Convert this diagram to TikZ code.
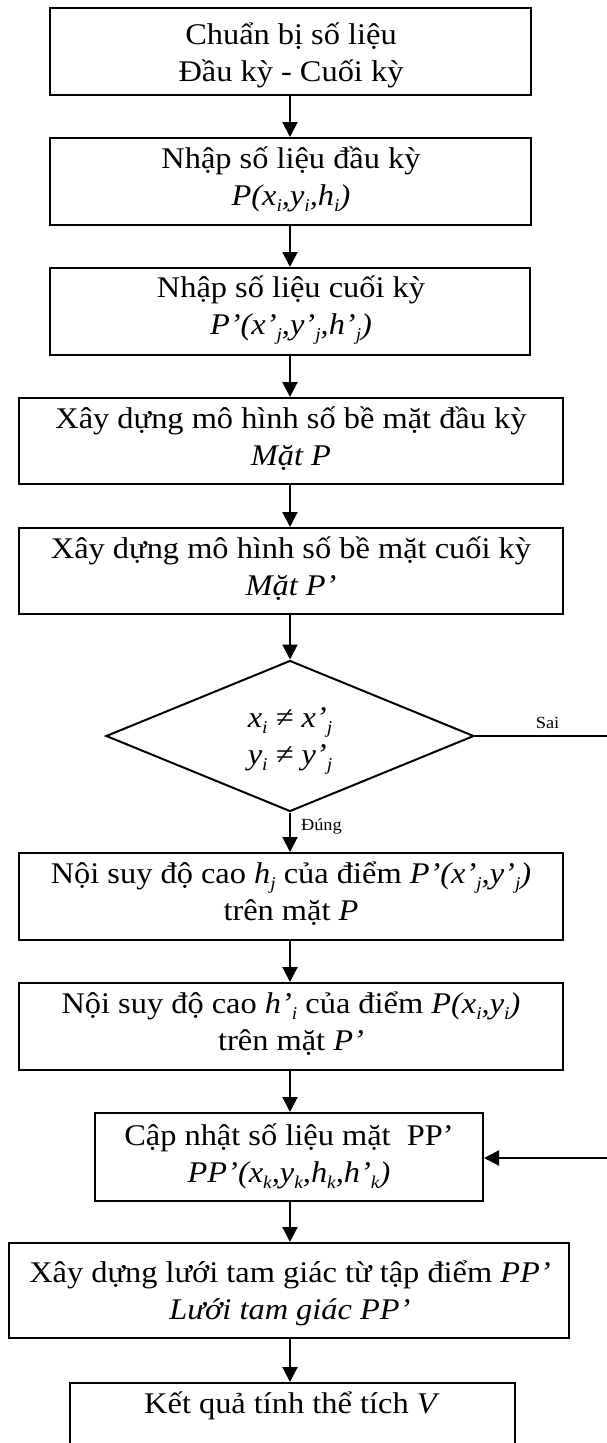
\documentclass[tikz,border=0pt]{standalone}
\usepackage{fontspec}
\setmainfont{Liberation Serif}[FakeStretch=1.08]
\usetikzlibrary{shapes.geometric,arrows.meta}
\newcommand\sbs[1]{\raisebox{-0.22em}{\fontsize{18}{18}\selectfont #1}}
\newcommand\fl{\rule{0pt}{30pt}}
\newcommand\boxfont{\fontsize{30}{37}\selectfont\lineskiplimit=-50pt\relax}
\tikzset{
  stepbox/.style={draw,line width=2pt,inner sep=0pt},
  boxtxt/.style={inner sep=0pt,align=center,anchor=north,font=\boxfont},
  decide/.style={draw,diamond,line width=2pt,inner sep=0pt,
    minimum width=368pt,minimum height=151pt},
  flow/.style={line width=2pt,-{Triangle[length=15pt,width=15pt]}},
  plain/.style={line width=2pt},
  lbl/.style={font=\fontsize{17}{20}\selectfont,inner sep=0pt}
}
\begin{document}
\begin{tikzpicture}[x=1pt,y=-1pt]
\useasboundingbox (0,0) rectangle (607,1443);
% boxes
\node[stepbox,minimum width=481pt,minimum height=87pt] (b1) at (290.5,51.5) {};
\node[stepbox,minimum width=481pt,minimum height=87pt] (b2) at (290.5,181.5) {};
\node[stepbox,minimum width=480pt,minimum height=87pt] (b3) at (290,311.5) {};
\node[stepbox,minimum width=544pt,minimum height=86pt] (b4) at (291,441) {};
\node[stepbox,minimum width=544pt,minimum height=86pt] (b5) at (291,571) {};
\node[decide] (d) at (290,736) {};
\node[stepbox,minimum width=544pt,minimum height=87pt] (b6) at (291,896.5) {};
\node[stepbox,minimum width=544pt,minimum height=87pt] (b7) at (291,1026.5) {};
\node[stepbox,minimum width=388pt,minimum height=88pt] (b8) at (289,1157) {};
\node[stepbox,minimum width=560pt,minimum height=95pt] (b9) at (289,1290.5) {};
\node[stepbox,minimum width=445pt,minimum height=87pt,anchor=north] (b10) at (292.5,1382) {};
% texts
\node[boxtxt] (t1) at (291,14) {\fl Chuẩn bị số liệu\\Đầu kỳ - Cuối kỳ};
\node[boxtxt] (t2) at (291,138) {\fl Nhập số liệu đầu kỳ\\\textit{P(x\sbs{i},y\sbs{i},h\sbs{i})}};
\node[boxtxt] (t3) at (291,267) {\fl Nhập số liệu cuối kỳ\\\textit{P’(x’\sbs{j},y’\sbs{j},h’\sbs{j})}};
\node[boxtxt] (t4) at (291,398) {\fl Xây dựng mô hình số bề mặt đầu kỳ\\\textit{Mặt P}};
\node[boxtxt] (t5) at (291,528) {\fl Xây dựng mô hình số bề mặt cuối kỳ\\\textit{Mặt P’}};
\node[boxtxt] (td) at (290,697) {\fl\textit{x\sbs{i} ≠ x’\sbs{j}}\\\textit{y\sbs{i} ≠ y’\sbs{j}}};
\node[boxtxt] (t6) at (291,853) {\fl Nội suy độ cao \textit{h\sbs{j}} của điểm \textit{P’(x’\sbs{j},y’\sbs{j})}\\trên mặt \textit{P}};
\node[boxtxt] (t7) at (291,983) {\fl Nội suy độ cao \textit{h’\sbs{i}} của điểm \textit{P(x\sbs{i},y\sbs{i})}\\trên mặt \textit{P’}};
\node[boxtxt] (t8) at (289,1115) {\fl Cập nhật số liệu mặt~~PP’\\\textit{PP’(x\sbs{k},y\sbs{k},h\sbs{k},h’\sbs{k})}};
\node[boxtxt] (t9) at (290,1252) {\fl Xây dựng lưới tam giác từ tập điểm \textit{PP’}\\\textit{Lưới tam giác PP’}};
\node[boxtxt] (t10) at (292,1383) {\fl Kết quả tính thể tích \textit{V}};
% connectors
\coordinate (sairight) at (607,736);
\coordinate (backin) at (607,1158);
\draw[flow] (b1.south -| d.north) -- (b2.north -| d.north);
\draw[flow] (b2.south -| d.north) -- (b3.north -| d.north);
\draw[flow] (b3.south -| d.north) -- (b4.north -| d.north);
\draw[flow] (b4.south -| d.north) -- (b5.north -| d.north);
\draw[flow] (b5.south -| d.north) -- (d.north);
\draw[flow] (d.south) -- (b6.north -| d.south) node[lbl,pos=0.35,right=10pt] (dung) {Đúng};
\draw[flow] (b6.south -| d.south) -- (b7.north -| d.south);
\draw[flow] (b7.south -| d.south) -- (b8.north -| d.south);
\draw[flow] (b8.south -| d.south) -- (b9.north -| d.south);
\draw[flow] (b9.south -| d.south) -- (b10.north -| d.south);
\draw[plain] (d.east) -- (sairight) node[lbl,pos=0.55,above=6pt] (sai) {Sai};
\draw[flow] (backin) -- (b8.east |- backin);
\end{tikzpicture}
\end{document}
